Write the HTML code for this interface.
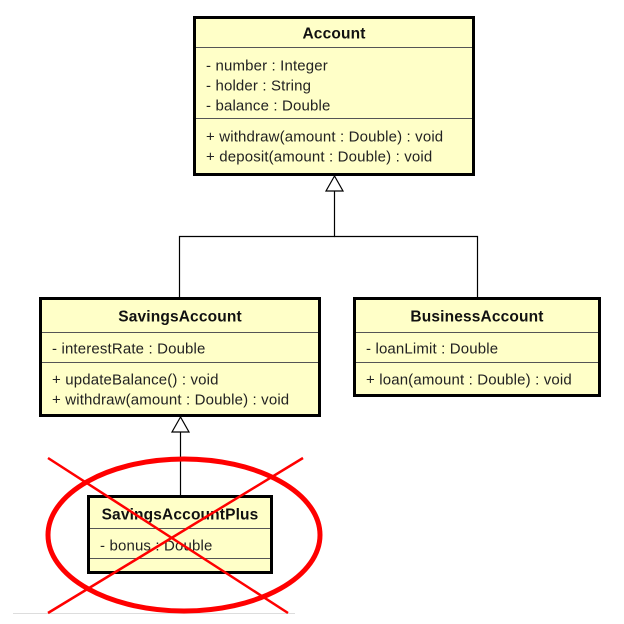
<!DOCTYPE html>
<html><head><style>
body{margin:0;width:624px;height:624px;background:#fff;overflow:hidden}
svg{display:block}
text{font-family:"Liberation Sans",sans-serif;font-size:15px;fill:#222;letter-spacing:0.15px}
.t{font-weight:bold;fill:#111;font-size:15.5px}
</style></head><body>
<svg width="624" height="624" viewBox="0 0 624 624">
<g fill="#ffffc8" stroke="#000" stroke-width="3">
<rect x="194.5" y="17.5" width="279" height="157"/>
<rect x="40.5" y="298.5" width="279" height="117"/>
<rect x="354.5" y="298.5" width="245" height="97"/>
<rect x="88.5" y="496.5" width="183" height="76"/>
</g>
<g stroke="#555" stroke-width="1">
<line x1="196" y1="47.5" x2="472" y2="47.5"/>
<line x1="196" y1="118.5" x2="472" y2="118.5"/>
<line x1="42" y1="332.5" x2="318" y2="332.5"/>
<line x1="42" y1="362.5" x2="318" y2="362.5"/>
<line x1="356" y1="332.5" x2="598" y2="332.5"/>
<line x1="356" y1="362.5" x2="598" y2="362.5"/>
<line x1="90" y1="528.5" x2="270" y2="528.5"/>
<line x1="90" y1="558.5" x2="270" y2="558.5"/>
</g>
<g stroke="#000" stroke-width="1.2" fill="none">
<polyline points="334.5,191 334.5,236.5 179.5,236.5 179.5,298"/>
<polyline points="334.5,236.5 477.5,236.5 477.5,298"/>
<line x1="180.5" y1="432" x2="180.5" y2="496"/>
</g>
<g stroke="#000" stroke-width="1.2" fill="#fff">
<polygon points="334.5,176 326,191 343,191"/>
<polygon points="180.5,417 172,432 189,432"/>
</g>
<text x="334" y="38.5" text-anchor="middle" class="t">Account</text>
<text x="206" y="70.5">- number : Integer</text>
<text x="206" y="90.5">- holder : String</text>
<text x="206" y="110.5">- balance : Double</text>
<text x="206" y="141.5">+ withdraw(amount : Double) : void</text>
<text x="206" y="161.5">+ deposit(amount : Double) : void</text>
<text x="180" y="321.5" text-anchor="middle" class="t">SavingsAccount</text>
<text x="52" y="353.5">- interestRate : Double</text>
<text x="52" y="384.5">+ updateBalance() : void</text>
<text x="52" y="404.5">+ withdraw(amount : Double) : void</text>
<text x="477" y="321.5" text-anchor="middle" class="t">BusinessAccount</text>
<text x="366" y="353.5">- loanLimit : Double</text>
<text x="366" y="384.5">+ loan(amount : Double) : void</text>
<text x="180" y="519.5" text-anchor="middle" class="t">SavingsAccountPlus</text>
<text x="100" y="550.5">- bonus : Double</text>
<line x1="13" y1="613.5" x2="295" y2="613.5" stroke="#ddd" stroke-width="1"/>
<g stroke="#f00" fill="none">
<ellipse cx="184" cy="535" rx="136" ry="76" stroke-width="5"/>
<line x1="48" y1="458" x2="288" y2="613" stroke-width="2.5"/>
<line x1="303" y1="458" x2="48" y2="613" stroke-width="2.5"/>
</g>
</svg>
</body></html>
